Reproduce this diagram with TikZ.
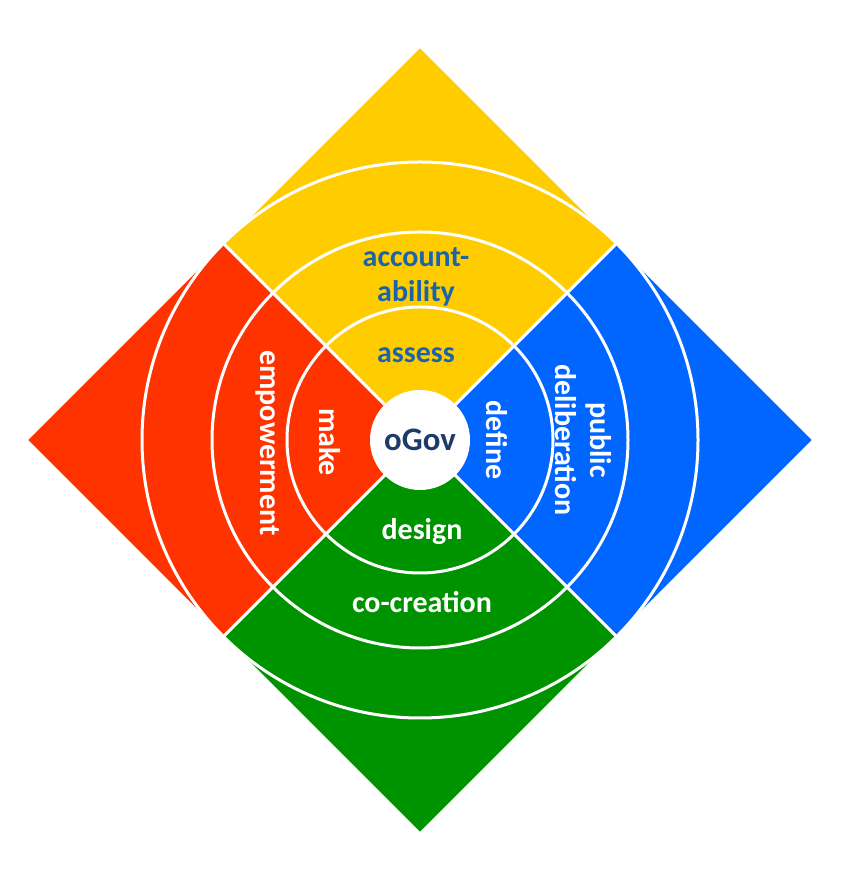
\documentclass[tikz,border=0pt]{standalone}
\usepackage{fontspec}
\setmainfont{Carlito}
\usepackage{tikz}
\usetikzlibrary{positioning}
\usepackage{xcolor}
\definecolor{govyellow}{HTML}{FFCC00}
\definecolor{govred}{HTML}{FF3300}
\definecolor{govblue}{HTML}{0066FF}
\definecolor{govgreen}{HTML}{009300}
\definecolor{govtext}{HTML}{1A64AD}
\definecolor{govnavy}{HTML}{1C3A6A}
\tikzset{%
	ring/.style={
		draw=white,
		line width=0.9mm
	},
	ring label/.style={
		font=\fontsize{25.6}{30}\selectfont\bfseries,
		text=white,
		align=center,
		inner sep=0pt
	},
	vertical label/.style={
		ring label,
		rotate=-90
	},
}
\begin{document}
\begin{tikzpicture}[
				x=0.3mm, y=0.3mm,
				hub/.style={circle, fill=white, minimum size=30mm, inner sep=0pt,
					font=\fontsize{28}{30}\selectfont\bfseries, text=govnavy}
				]
				\useasboundingbox (0,0) rectangle (840,880);
				\coordinate (c) at (420,440);
				\coordinate (top) at (420,833);
				\coordinate (right) at (813,440);
				\coordinate (bottom) at (420,47);
				\coordinate (left) at (27,440);
				\coordinate (nw) at (223.5,636.5);
				\coordinate (ne) at (616.5,636.5);
				\coordinate (se) at (616.5,243.5);
				\coordinate (sw) at (223.5,243.5);
				
				\fill[govyellow] (c) -- (nw) -- (top) -- (ne) -- cycle;
				\fill[govblue] (c) -- (ne) -- (right) -- (se) -- cycle;
				\fill[govgreen] (c) -- (se) -- (bottom) -- (sw) -- cycle;
				\fill[govred] (c) -- (sw) -- (left) -- (nw) -- cycle;
				
				\begin{scope}
					\clip (top) -- (right) -- (bottom) -- (left) -- cycle;
					\foreach \r in {133,208,278}
						\draw[ring] (c) circle (\r);
				\end{scope}
				\draw[ring] (nw) -- (se) (ne) -- (sw);
				\draw[ring, line width=0.5mm] (top) -- (right) -- (bottom) -- (left) -- cycle;
				
				\node[hub] (ogov) at (c) {oGov};
				
				\node[ring label, text=govtext] (assess) at (416,525) {assess};
				\node[ring label, text=govtext] (accountability) at (416,603.5) {account-\\ability};
				\node[ring label] (design) at (422,348) {design};
				\node[ring label] (cocreation) at (422,278) {co-creation};
				\node[vertical label] (make) at (330,438) {make};
				\node[vertical label] (empowerment) at (268,437) {empowerment};
				\node[vertical label] (define) at (497,440) {define};
				\node[vertical label] (deliberation) at (583,440) {public\\deliberation};
				
				
			\end{tikzpicture}
\end{document}
